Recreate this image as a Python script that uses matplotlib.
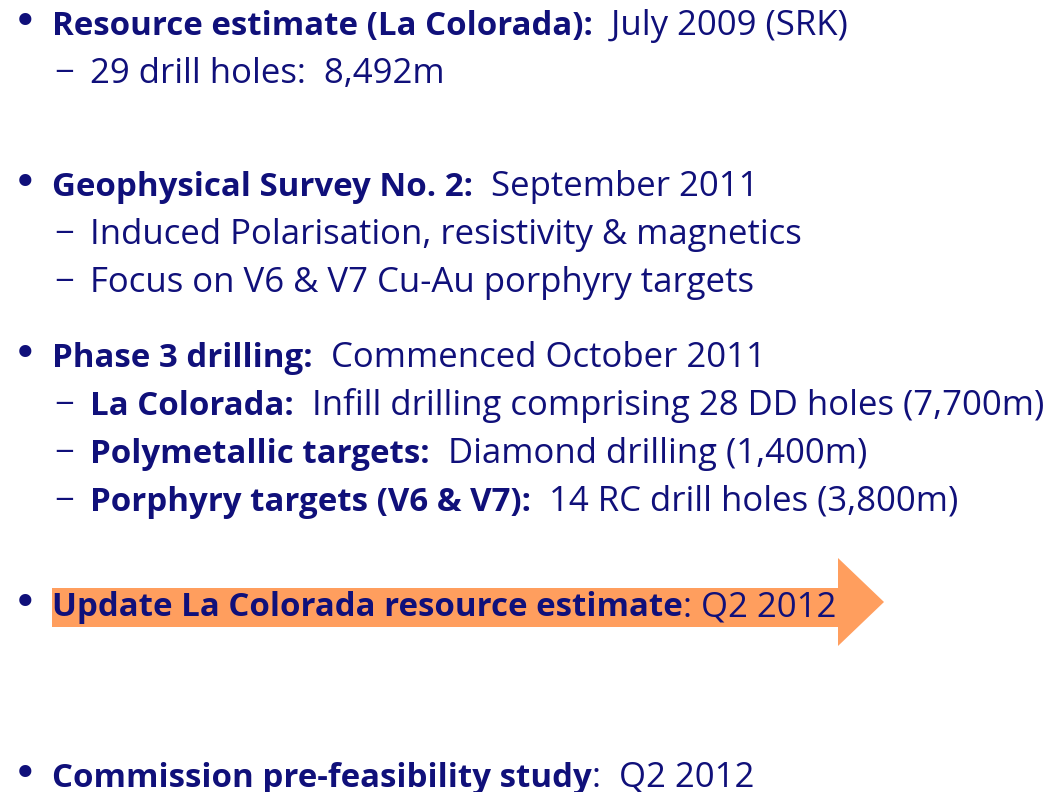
import matplotlib
matplotlib.use("Agg")
import matplotlib.pyplot as plt
from matplotlib.patches import Polygon

W, H = 1055, 792
NAVY = "#10107a"
ORANGE = "#ff9e5e"
FONT = "Open Sans"
FS_BOLD = 23.8
FS_REG = 25

# (level, baseline_px, [(text, bold), ...])
levels = [0, 1, 0, 1, 1, 0, 1, 1, 1, 0, 0]
baselines = [35, 83, 196, 244, 292, 367, 415, 463, 511, 616, 787]
segments = [
    [("Resource estimate (La Colorada):", True), ("  July 2009 (SRK)", False)],
    [("29 drill holes:  8,492m", False)],
    [("Geophysical Survey No. 2:", True), ("  September 2011", False)],
    [("Induced Polarisation, resistivity & magnetics", False)],
    [("Focus on V6 & V7 Cu-Au porphyry targets", False)],
    [("Phase 3 drilling:", True), ("  Commenced October 2011", False)],
    [("La Colorada:", True), ("  Infill drilling comprising 28 DD holes (7,700m)", False)],
    [("Polymetallic targets:", True), ("  Diamond drilling (1,400m)", False)],
    [("Porphyry targets (V6 & V7):", True), ("  14 RC drill holes (3,800m)", False)],
    [("Update La Colorada resource estimate", True), (": Q2 2012", False)],
    [("Commission pre-feasibility study", True), (":  Q2 2012", False)],
]

fig = plt.figure(figsize=(W / 100, H / 100), dpi=100)
fig.patch.set_facecolor("white")
ax = fig.add_axes([0, 0, 1, 1])
ax.set_xlim(0, W)
ax.set_ylim(H, 0)
ax.axis("off")

# highlight arrow behind "Update" line
arrow = Polygon([(52, 588), (838, 588), (838, 558), (884, 602),
                 (838, 646), (838, 627), (52, 627)],
                closed=True, facecolor=ORANGE, edgecolor="none", zorder=0)
ax.add_patch(arrow)

fig.canvas.draw()
renderer = fig.canvas.get_renderer()

for lvl, yb, segs in zip(levels, baselines, segments):
    if lvl == 0:
        ax.text(13, yb, "•", fontsize=30, color=NAVY, family="DejaVu Sans",
                va="baseline", ha="left")
        x = 52
    else:
        ax.text(54, yb, "−", fontsize=FS_REG, color=NAVY, family=FONT,
                va="baseline", ha="left")
        x = 90
    for txt, bold in segs:
        t = ax.text(x, yb, txt, fontsize=FS_BOLD if bold else FS_REG,
                    color=NAVY, family=FONT,
                    fontweight="bold" if bold else "normal",
                    va="baseline", ha="left", zorder=2)
        bb = t.get_window_extent(renderer=renderer)
        x = x + bb.width

fig.savefig("out.png", dpi=100, facecolor="white")
